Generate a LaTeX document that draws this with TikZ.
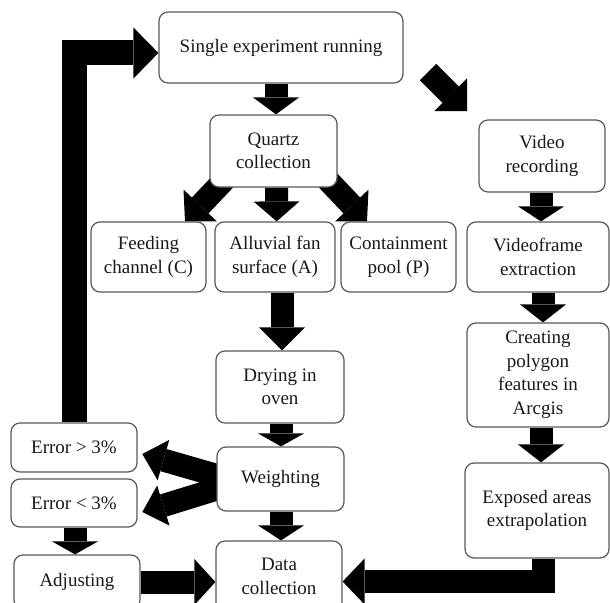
\documentclass[tikz,border=0pt]{standalone}
\usepackage{fontspec}
\setmainfont{Liberation Serif}
\usetikzlibrary{arrows.meta}
\pgfdeclarelayer{bg}
\pgfsetlayers{bg,main}
\begin{document}
\begin{tikzpicture}[x=1pt,y=-1pt,
  box/.style={draw=black!65, line width=1.2pt, rounded corners=9pt, fill=white,
    align=center, inner sep=0pt, text=black!90, font=\fontsize{19}{23.5}\selectfont},
  sz/.style 2 args={minimum width=#1pt, minimum height=#2pt},
  blk/.style={line width=23pt, draw=black, -{Triangle[width=46pt,length=#1,line width=0pt]}},
  blk/.default=18pt,
  wblk/.style={line width=23pt, draw=black, -{Triangle[width=42pt,length=22pt,line width=0pt]}},
  loopblk/.style={line width=25pt, draw=black, -{Triangle[width=51pt,length=25pt,line width=0pt]}}]
\useasboundingbox (0,0) rectangle (610,602);
\clip (0,0) rectangle (610,602);

% boxes
\node[box, sz={244}{71}]  (single)   at (281,47.5)  {Single experiment running};
\node[box, sz={127}{72}]  (quartz)   at (273.5,151) {Quartz\\collection};
\node[box, sz={126}{72}]  (video)    at (542,156)   {Video\\recording};
\node[box, sz={115}{70}]  (feed)     at (148.5,257) {Feeding\\channel (C)};
\node[box, sz={120}{70}]  (alluv)    at (275,257)   {Alluvial fan\\surface (A)};
\node[box, sz={115}{70}]  (contain)  at (398.5,257) {Containment\\pool (P)};
\node[box, sz={142}{70}]  (vframe)   at (538,257)   {Videoframe\\extraction};
\node[box, sz={142}{104}] (creating) at (538,375)   {Creating\\polygon\\features in\\Arcgis};
\node[box, sz={128}{72}]  (drying)   at (280,387)   {Drying in\\oven};
\node[box, sz={127}{64}]  (weight)   at (280.5,479) {Weighting};
\node[box, sz={126}{71}]  (data)     at (279,576.5) {Data\\collection};
\node[box, sz={126}{49}]  (err1)     at (74,447.5)  {Error > 3\%};
\node[box, sz={126}{48}]  (err2)     at (74,503)    {Error < 3\%};
\node[box, sz={126}{54}]  (adjust)   at (77,582)    {Adjusting};
\node[box, sz={144}{95}]  (exposed)  at (537,510.5) {Exposed areas\\extrapolation};

\coordinate (dA) at (428,72);
\coordinate (dB) at (467,111);
\coordinate (ws) at ([shift={(23,3)}]weight.west);

\begin{pgfonlayer}{bg}
\draw[blk=17pt] ([shift={(-5,0)}]single.south) -- ([shift={(2.5,0)}]quartz.north);
\draw[blk=20pt] ([shift={(3,0)}]quartz.south) -- ([shift={(1.7,0)}]alluv.north);
\draw[blk=22pt] ([shift={(-41.5,21)}]quartz.center) -- ([shift={(36.5,0)}]feed.north);
\draw[blk=22pt] ([shift={(46.5,21)}]quartz.center) -- ([shift={(-31.5,0)}]contain.north);
\draw[blk=23pt] ([shift={(7,0)}]alluv.south) -- ([shift={(2,0)}]drying.north);
\draw[blk=13pt] ([shift={(1,0)}]drying.south) -- ([shift={(0.5,0)}]weight.north);
\draw[blk=15pt] ([shift={(0.5,0)}]weight.south) -- ([shift={(2,0)}]data.north);
\draw[blk=23pt] (dA) -- (dB);
\draw[blk=15pt] ([shift={(-1,0)}]video.south) -- ([shift={(3,0)}]vframe.north);
\draw[blk=18pt] ([shift={(5,0)}]vframe.south) -- ([shift={(5,0)}]creating.north);
\draw[blk=18pt] ([shift={(3,0)}]creating.south) -- ([shift={(4,0)}]exposed.north);
\draw[blk=13pt] ([shift={(1,0)}]err2.south) -- ([shift={(-2,0)}]adjust.north);
\draw[loopblk] (err1.north) |- ([shift={(0,5.5)}]single.west);
\draw[blk=22pt] ([shift={(6,0)}]exposed.south) |- ([shift={(0,5)}]data.east);
\draw[blk=21pt] (adjust.east) -- (adjust.east -| data.west);
\draw[wblk] (ws) -- ([shift={(4.7,6.5)}]err1.east);
\draw[wblk] (ws) -- ([shift={(4.7,9)}]err2.east);
\end{pgfonlayer}
\end{tikzpicture}
\end{document}
